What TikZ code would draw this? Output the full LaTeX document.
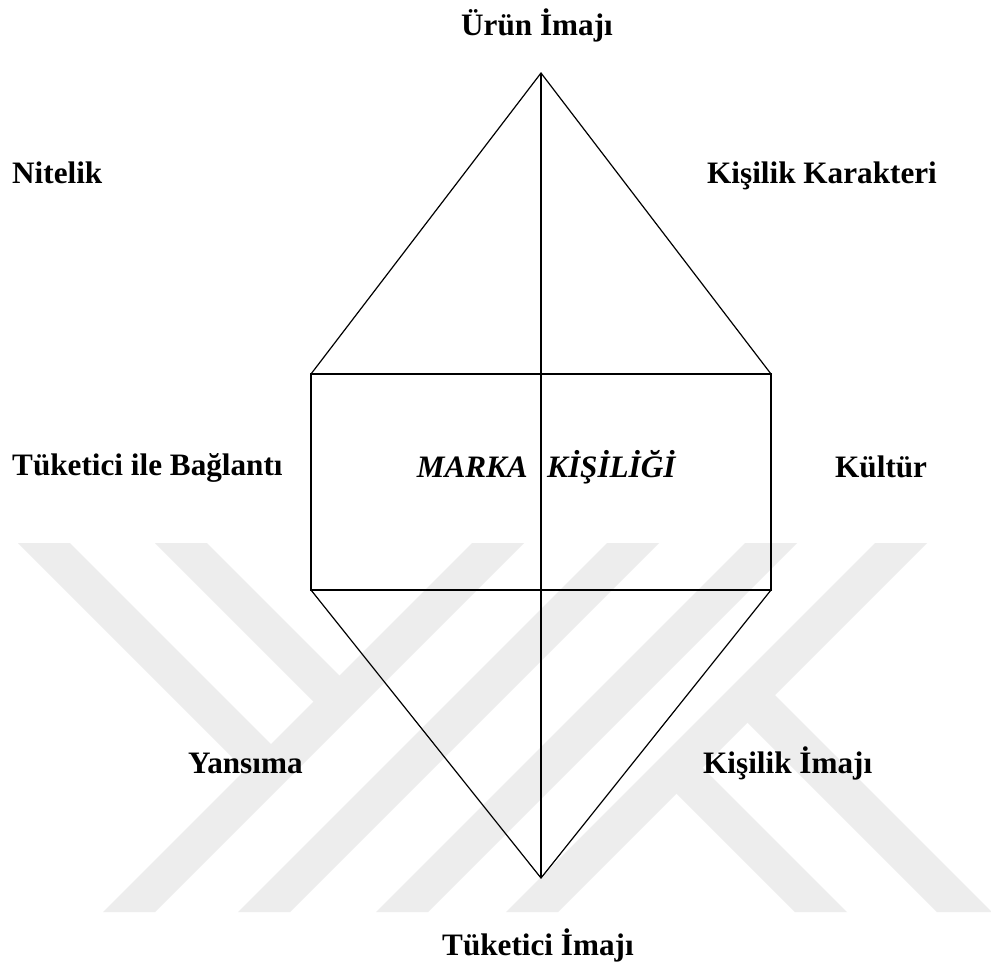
\documentclass[tikz,border=0pt]{standalone}
\usepackage{fontspec}
\setmainfont{Liberation Serif}
\definecolor{wmark}{RGB}{237,237,237}
\begin{document}
\begin{tikzpicture}[x=1pt,y=-1pt,
  lbl/.style={inner sep=0pt,font=\fontsize{31.2}{37}\selectfont\bfseries},
  ilbl/.style={inner sep=0pt,font=\fontsize{31.2}{37}\selectfont\bfseries\itshape},
  diag/.style={line width=1.2pt,line join=miter},
  boxline/.style={line width=1.8pt},
  midline/.style={line width=1.5pt},
  band/.style={fill=wmark,draw=none}]
\useasboundingbox (0,0) rectangle (991,967);
\fill[white] (0,0) rectangle (991,967);
% faint background watermark
\begin{scope}
\clip (0,543) rectangle (991,912);
\fill[band] (472,543) -- (524,543) -- (155,912) -- (103,912) -- cycle;
\fill[band] (607,543) -- (659,543) -- (290,912) -- (238,912) -- cycle;
\fill[band] (745,543) -- (797,543) -- (428,912) -- (376,912) -- cycle;
\fill[band] (875,543) -- (927,543) -- (558,912) -- (506,912) -- cycle;
\fill[band] (18,543) -- (70,543) -- (283.5,756.5) -- (257.5,782.5) -- cycle;
\fill[band] (155,543) -- (207,543) -- (352,688) -- (326,714) -- cycle;
\fill[band] (735,710) -- (762.5,682.5) -- (992,912) -- (937,912) -- cycle;
\fill[band] (664,781) -- (690,755) -- (847,912) -- (795,912) -- cycle;
\end{scope}
% corner points
\coordinate (top) at (541,73);
\coordinate (tl) at (311,374);
\coordinate (tr) at (771,374);
\coordinate (bl) at (311,590);
\coordinate (br) at (771,590);
\coordinate (bot) at (541,878);
% shape
\draw[diag] (tl) -- (top) -- (tr);
\draw[diag] (bl) -- (bot) -- (br);
\draw[boxline] (tl) rectangle (br);
\draw[midline] (top) -- (bot);
% labels
\node[lbl,anchor=base] (urun) at (537,35) {Ürün İmajı};
\node[lbl,anchor=base west] (nitelik) at (12,183) {Nitelik};
\node[lbl,anchor=base west] (kkar) at (707,183) {Kişilik Karakteri};
\node[lbl,anchor=base west] (tib) at (12,475) {Tüketici ile Bağlantı};
\node[lbl,anchor=base west] (kultur) at (835,477) {Kültür};
\node[ilbl,anchor=base east] (marka) at (528,477) {MARKA};
\node[ilbl,anchor=base west] (kisiligi) at (547,477) {KİŞİLİĞİ};
\node[lbl,anchor=base west] (yansima) at (188,773) {Yansıma};
\node[lbl,anchor=base west] (kimaj) at (703,773) {Kişilik İmajı};
\node[lbl,anchor=base west] (timaj) at (442,955) {Tüketici İmajı};
\end{tikzpicture}
\end{document}
